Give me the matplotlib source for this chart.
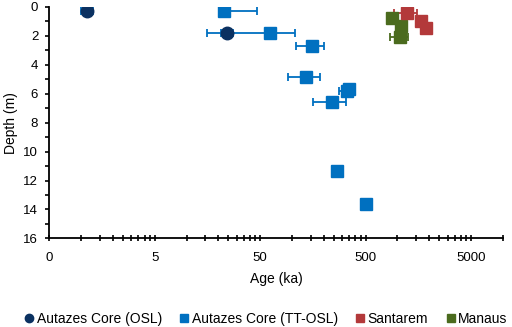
import numpy as np
import matplotlib
matplotlib.use("Agg")
from matplotlib import pyplot as plt
from matplotlib.ticker import FixedLocator, NullFormatter

plt.rcParams['font.family'] = ['Liberation Sans', 'DejaVu Sans']

# Autazes Core (OSL)
osl_age = [1.14, 24.4]
osl_depth = [0.3, 1.8]
osl_err = [0.15, 3.0]

# Autazes Core (TT-OSL)
tt_age = [22.9, 62.1, 154, 136, 330, 350, 239, 270, 506]
tt_depth = [0.3, 1.8, 2.7, 4.85, 5.8, 5.7, 6.55, 11.35, 13.6]
tt_err_lo = [1.0, 46.5, 45, 45, 50, 0, 81, 0, 0]
tt_err_hi = [23.5, 45, 45, 50, 0, 0, 88, 0, 0]

# Santarem
san_age = [1230, 1670, 1875]
san_depth = [0.45, 0.95, 1.45]
san_err = [300, 0, 0]

# Manaus
man_age = [890, 1080, 1050]
man_depth = [0.8, 1.35, 2.1]
man_err = [60, 0, 205]

x_ticks = [0.5, 5, 50, 500, 5000]
x_labels = ['0', '5', '50', '500', '5000']

c_osl = '#0B3161'
c_tt = '#0070C0'
c_san = '#B3393A'
c_man = '#4B6B1E'

fig = plt.figure(figsize=(5.12, 3.27), dpi=100)
ax = fig.add_axes([0.0963, 0.271, 0.886, 0.708])

ax.errorbar(tt_age, tt_depth, xerr=[tt_err_lo, tt_err_hi], fmt='s', color=c_tt,
            ms=9, ecolor=c_tt, elinewidth=1.3, capsize=3, capthick=1.3,
            label='Autazes Core (TT-OSL)', zorder=3)
ax.errorbar(osl_age, osl_depth, xerr=osl_err, fmt='o', color=c_osl,
            ms=9, ecolor=c_tt, elinewidth=1.3, capsize=3, capthick=1.3,
            label='Autazes Core (OSL)', zorder=4)
ax.errorbar(man_age, man_depth, xerr=man_err, fmt='s', color=c_man,
            ms=9, ecolor=c_man, elinewidth=1.3, capsize=3, capthick=1.3,
            label='Manaus', zorder=3)
ax.errorbar(san_age, san_depth, xerr=san_err, fmt='s', color=c_san,
            ms=9, ecolor=c_san, elinewidth=1.3, capsize=3, capthick=1.3,
            label='Santarem', zorder=3)

ax.set_xscale('log')
ax.set_xlim(0.5, 10000)
ax.set_ylim(16, 0)
ax.xaxis.set_major_locator(FixedLocator(x_ticks))
ax.set_xticklabels(x_labels)
# minor ticks at 2..9 times each 0.5*10^n
minors = [t * k for t in x_ticks for k in range(2, 10)]
ax.xaxis.set_minor_locator(FixedLocator(minors))
ax.xaxis.set_minor_formatter(NullFormatter())
ax.set_yticks(np.arange(0, 17, 2))
ax.set_yticks(np.arange(1, 16, 2), minor=True)

for s in ['top', 'right']:
    ax.spines[s].set_visible(False)
for s in ['left', 'bottom']:
    ax.spines[s].set_linewidth(1.3)
ax.tick_params(axis='x', which='both', direction='inout', width=1.2, length=5,
               labelsize=9.5, pad=7)
ax.tick_params(axis='y', which='both', direction='out', width=1.2, length=3,
               labelsize=9.5, pad=5)

ax.set_xlabel('Age (ka)', fontsize=10, labelpad=6)
ax.set_ylabel('Depth (m)', fontsize=10, labelpad=4)

h, l = ax.get_legend_handles_labels()
order = [l.index('Autazes Core (OSL)'), l.index('Autazes Core (TT-OSL)'),
         l.index('Santarem'), l.index('Manaus')]
hs = []
for i in order:
    hs.append(plt.Line2D([], [], marker=h[i][0].get_marker(), color=h[i][0].get_color(),
                         ls='none', ms=6))
fig.legend(hs, [l[i] for i in order], loc='lower center', ncol=4, frameon=False,
           fontsize=10, handlelength=0.6, handletextpad=0.25, columnspacing=1.3,
           bbox_to_anchor=(0.52, -0.035))

plt.savefig('out.png', dpi=100)
plt.close()
